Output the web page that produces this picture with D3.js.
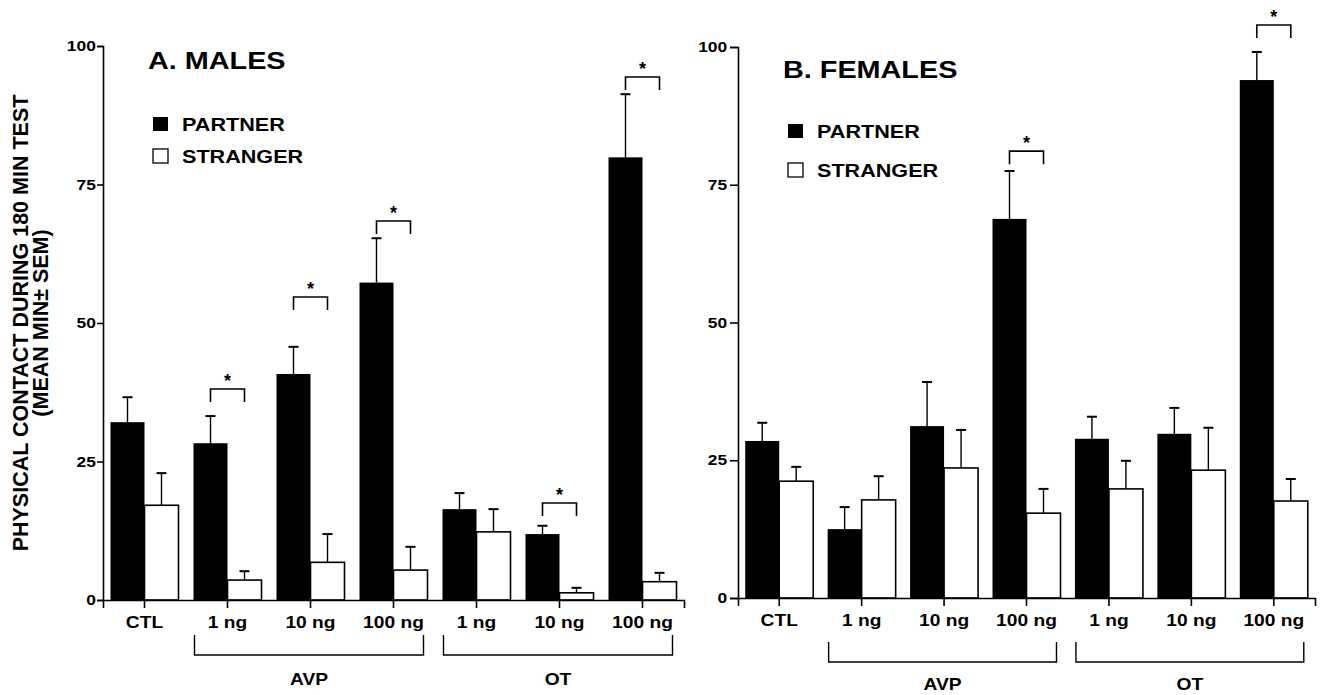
<!DOCTYPE html>
<html>
<head>
<meta charset="utf-8">
<script src="https://cdn.jsdelivr.net/npm/d3@7"></script>
<style>
  html, body { margin: 0; padding: 0; background: #fff; }
  svg { display: block; }
  text { font-family: "Liberation Sans", Arial, Helvetica, sans-serif; font-weight: bold; fill: #000; }
</style>
</head>
<body>
<svg id="chart" width="1321" height="695"></svg>
<script>
// ---------------- DATA ----------------
const categories = ["CTL", "1 ng", "10 ng", "100 ng", "1 ng", "10 ng", "100 ng"];
const seriesNames = ["PARTNER", "STRANGER"];
const yTicks = [0, 25, 50, 75, 100];

const groupNames = ["AVP", "OT"];
const groupFirst = [1, 4];
const groupLast = [3, 6];

// A. Males (mean minutes ± SEM)
const malesPartner = [32.1, 28.3, 40.8, 57.3, 16.4, 11.9, 79.9];
const malesPartnerSem = [4.5, 4.9, 4.9, 8.0, 2.9, 1.5, 11.4];
const malesStranger = [17.1, 3.6, 6.8, 5.4, 12.3, 1.3, 3.3];
const malesStrangerSem = [5.8, 1.6, 5.1, 4.2, 4.1, 0.9, 1.6];
const malesSigCats = [1, 2, 3, 5, 6];
const malesSigLevels = [38.1, 54.7, 68.4, 17.5, 94.4];

// B. Females (mean minutes ± SEM)
const femalesPartner = [28.5, 12.5, 31.2, 68.8, 28.9, 29.8, 94.0];
const femalesPartnerSem = [3.3, 4.0, 8.0, 8.7, 4.0, 4.7, 5.1];
const femalesStranger = [21.2, 17.8, 23.6, 15.4, 19.8, 23.2, 17.6];
const femalesStrangerSem = [2.6, 4.3, 6.9, 4.4, 5.1, 7.7, 4.0];
const femalesSigCats = [3, 6];
const femalesSigLevels = [81.1, 104.0];

const yLabelLines = ["PHYSICAL CONTACT DURING 180 MIN TEST", "(MEAN MIN\u00B1 SEM)"];

// ---------------- LAYOUT ----------------
const panels = [
  { title: "A. MALES", partner: malesPartner, partnerSem: malesPartnerSem,
    stranger: malesStranger, strangerSem: malesStrangerSem,
    sigCats: malesSigCats, sigLevels: malesSigLevels,
    x0: 103, x1: 684, yTop: 46, yBot: 600, titleY: 69, legendY: [131, 163],
    groupY: 655, groupDrop: 20, groupLabelY: 685, yTickSize: 6, yTickPad: 0 },
  { title: "B. FEMALES", partner: femalesPartner, partnerSem: femalesPartnerSem,
    stranger: femalesStranger, strangerSem: femalesStrangerSem,
    sigCats: femalesSigCats, sigLevels: femalesSigLevels,
    x0: 738, x1: 1315, yTop: 47, yBot: 598, titleY: 78, legendY: [138, 177],
    groupY: 662, groupDrop: 20, groupLabelY: 690, yTickSize: 8, yTickPad: 1 }
];

const SX = 1.2;          // horizontal stretch of the lettering
const barW = 34;
const capHalf = 5;
const sw = 1.6;

const svg = d3.select("#chart");

function stretchedText(g, x, y, str, size, anchor) {
  return g.append("text")
    .attr("transform", `translate(${x},${y}) scale(${SX},1)`)
    .attr("text-anchor", anchor || "start")
    .style("font-size", size + "px")
    .text(str);
}

panels.forEach(p => {
  const g = svg.append("g");
  const x = d3.scaleBand().domain(d3.range(categories.length)).range([p.x0, p.x1]);
  const cx = i => x(i) + x.bandwidth() / 2;
  const y = d3.scaleLinear().domain([0, 100]).range([p.yBot, p.yTop]);

  // bars
  const series = [
    { vals: p.partner, sem: p.partnerSem, off: -barW, fill: "#000" },
    { vals: p.stranger, sem: p.strangerSem, off: 0, fill: "#fff" }
  ];
  series.forEach((s, si) => {
    // error bars
    g.selectAll(null).data(s.vals).enter().append("line")
      .attr("x1", (d, i) => cx(i) + s.off + barW / 2)
      .attr("x2", (d, i) => cx(i) + s.off + barW / 2)
      .attr("y1", d => y(d))
      .attr("y2", (d, i) => y(d + s.sem[i]))
      .attr("stroke", "#000").attr("stroke-width", 1.4);
    g.selectAll(null).data(s.vals).enter().append("line")
      .attr("x1", (d, i) => cx(i) + s.off + barW / 2 - capHalf)
      .attr("x2", (d, i) => cx(i) + s.off + barW / 2 + capHalf)
      .attr("y1", (d, i) => y(d + s.sem[i]))
      .attr("y2", (d, i) => y(d + s.sem[i]))
      .attr("stroke", "#000").attr("stroke-width", 2);
    g.selectAll(null).data(s.vals).enter().append("rect")
      .attr("x", (d, i) => cx(i) + s.off)
      .attr("y", d => y(d))
      .attr("width", barW)
      .attr("height", d => y(0) - y(d))
      .attr("fill", s.fill)
      .attr("stroke", si === 1 ? "#000" : "none")
      .attr("stroke-width", sw);
  });

  // significance brackets
  p.sigCats.forEach((c, k) => {
    const by = y(p.sigLevels[k]);
    const xl = cx(c) - barW / 2, xr = cx(c) + barW / 2;
    g.append("path")
      .attr("d", `M${xl},${by + 13}V${by}H${xr}V${by + 13}`)
      .attr("fill", "none").attr("stroke", "#000").attr("stroke-width", 1.6);
    g.append("text").attr("x", (xl + xr) / 2).attr("y", by - 2)
      .attr("text-anchor", "middle").style("font-size", "18px").text("*");
  });

  // y axis
  const yAxis = g.append("g").attr("transform", `translate(${p.x0},0)`)
    .call(d3.axisLeft(y).tickValues(yTicks).tickSizeOuter(0)
      .tickSize(p.yTickSize).tickPadding(p.yTickPad));
  yAxis.selectAll("text").attr("transform", `scale(${SX},1)`)
    .style("font-size", "14.5px").style("font-family", "'Liberation Sans', Arial, sans-serif")
    .style("font-weight", "bold").attr("fill", "#000");
  yAxis.selectAll("path,line").attr("stroke", "#000").attr("stroke-width", sw);

  // x axis
  const xAxis = g.append("g").attr("transform", `translate(0,${p.yBot})`)
    .call(d3.axisBottom(x).tickFormat(i => categories[i]).tickSizeOuter(0)
      .tickSize(8).tickPadding(9));
  xAxis.selectAll("text").attr("transform", `scale(${SX},1)`)
    .style("font-size", "16px").style("font-family", "'Liberation Sans', Arial, sans-serif")
    .style("font-weight", "bold").attr("fill", "#000");
  xAxis.selectAll("path,line").attr("stroke", "#000").attr("stroke-width", sw);

  // group brackets (AVP / OT)
  groupNames.forEach((name, k) => {
    const xl = cx(groupFirst[k]) - 33, xr = cx(groupLast[k]) + 30;
    g.append("path")
      .attr("d", `M${xl},${p.groupY - p.groupDrop}V${p.groupY}H${xr}V${p.groupY - p.groupDrop}`)
      .attr("fill", "none").attr("stroke", "#000").attr("stroke-width", 1.4);
    stretchedText(g, (xl + xr) / 2, p.groupLabelY, name, 16, "middle");
  });

  // title
  stretchedText(g, p.x0 + 45, p.titleY, p.title, 24);

  // legend
  seriesNames.forEach((name, k) => {
    const ly = p.legendY[k];
    g.append("rect").attr("x", p.x0 + 50).attr("y", ly - 14)
      .attr("width", 15).attr("height", 14)
      .attr("fill", k === 0 ? "#000" : "#fff")
      .attr("stroke", "#000").attr("stroke-width", k === 0 ? 0 : 1.3);
    stretchedText(g, p.x0 + 79, ly, name, 18);
  });
});

// y-axis title (left panel)
const yMid = (panels[0].yTop + panels[0].yBot) / 2;
yLabelLines.forEach((line, k) => {
  svg.append("text")
    .attr("transform", `translate(${28 + k * 20},${yMid}) rotate(-90)`)
    .attr("text-anchor", "middle")
    .style("font-size", "21.5px")
    .text(line);
});
</script>
</body>
</html>
